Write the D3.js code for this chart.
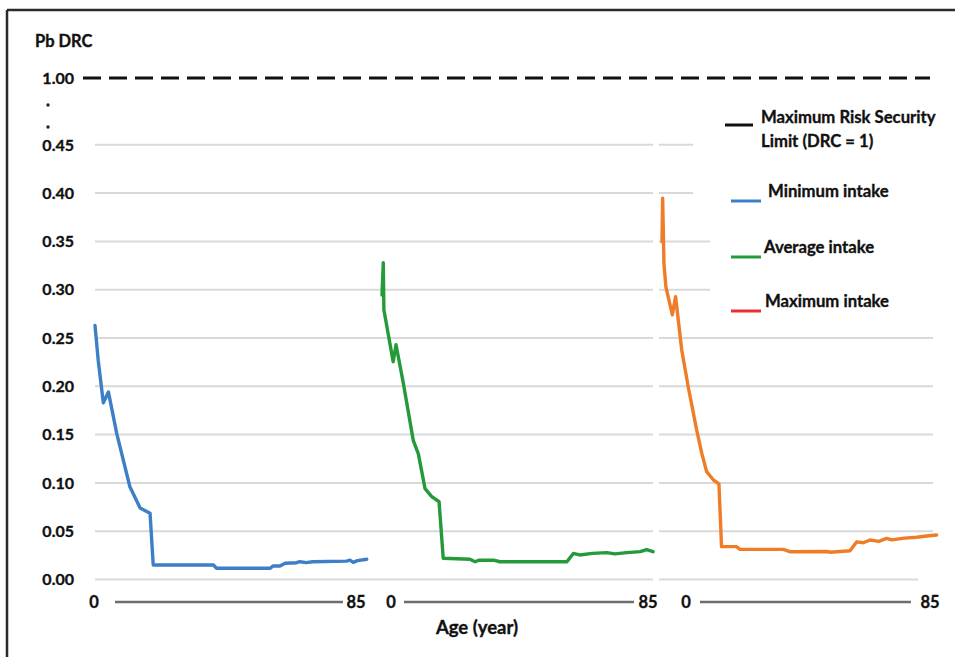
<!DOCTYPE html>
<html>
<head>
<meta charset="utf-8">
<script src="https://cdn.jsdelivr.net/npm/d3@7"></script>
<style>
  html, body { margin: 0; padding: 0; background: #ffffff; }
  svg { display: block; }
  text { font-family: Lato, "Open Sans", "DejaVu Sans", sans-serif; font-weight: 700; fill: #111; stroke: #111; stroke-width: 0.35px; }
</style>
</head>
<body>
<svg id="chart" width="955" height="657"></svg>
<script>
// Pb dietary risk coefficient (DRC) by age, three intake scenarios
const yTicks = [0.00, 0.05, 0.10, 0.15, 0.20, 0.25, 0.30, 0.35, 0.40, 0.45];
const yTickLabels = ["0.00", "0.05", "0.10", "0.15", "0.20", "0.25", "0.30", "0.35", "0.40", "0.45"];
const limitValue = 1.00;
const ageDomain = [0, 85];

const minAges = [0, 1.0, 2.6, 4.2, 6.8, 10.9, 14.1, 17.2, 18.2, 37, 38, 54.7, 55.7, 57.8, 59.4, 63, 64, 66, 68, 78.6, 79.7, 80.7, 82, 84.9];
const minValues = [0.263, 0.227, 0.183, 0.194, 0.151, 0.096, 0.074, 0.0685, 0.015, 0.015, 0.0116, 0.0116, 0.014, 0.014, 0.0168, 0.0174, 0.0184, 0.0174, 0.0184, 0.019, 0.020, 0.0178, 0.0195, 0.021];

const avgAges = [0, 0.4, 0.6, 3.5, 4.4, 6.7, 9.8, 11.4, 13.5, 15.6, 17.9, 19.2, 27.6, 29.2, 30.5, 35, 37, 58, 60, 62, 66, 70.5, 73, 76.8, 81, 83, 85];
const avgValues = [0.2945, 0.328, 0.279, 0.2255, 0.243, 0.203, 0.144, 0.130, 0.094, 0.0857, 0.0805, 0.022, 0.021, 0.0184, 0.020, 0.020, 0.0184, 0.0184, 0.027, 0.0254, 0.027, 0.0278, 0.0265, 0.0278, 0.0288, 0.031, 0.0288];

const maxAges = [0, 0.2, 0.6, 1.2, 3.2, 4.2, 6.1, 8.1, 10.7, 12.3, 13.8, 15.9, 17.6, 18.4, 23, 24.1, 37.5, 39.5, 50.9, 52, 58.1, 60.2, 62.2, 64.3, 67, 69.4, 71, 75, 78.7, 81.8, 84.9];
const maxValues = [0.3497, 0.3946, 0.327, 0.303, 0.274, 0.2928, 0.2376, 0.1996, 0.155, 0.1306, 0.1116, 0.103, 0.0989, 0.034, 0.034, 0.0312, 0.0312, 0.0288, 0.029, 0.0282, 0.0298, 0.039, 0.038, 0.0409, 0.0395, 0.0426, 0.041, 0.0428, 0.0437, 0.045, 0.046];

const legendLabels = [["Maximum Risk Security", "Limit (DRC = 1)"], ["Minimum intake"], ["Average intake"], ["Maximum intake"]];
const axisTitleY = "Pb DRC";
const axisTitleX = "Age (year)";
const ageTickLabels = ["0", "85"];

const svg = d3.select("#chart");

// Vertical scale (broken axis: 0–0.45 region, limit line drawn above the break)
const y = d3.scaleLinear().domain([0, 0.45]).range([579.5, 144.8]);
const yLimit = 78;

// Three side-by-side panels sharing the y axis
const panels = [
  { ages: minAges, values: minValues, color: "#3c7fc6", range: [95, 367],  axis: { l0: 94,  a: 115, b: 343, l85: 356 } },
  { ages: avgAges, values: avgValues, color: "#249a3a", range: [382, 653], axis: { l0: 391, a: 404, b: 634, l85: 648 } },
  { ages: maxAges, values: maxValues, color: "#ef7d27", range: [662, 937], axis: { l0: 686, a: 700, b: 911, l85: 930 } }
];

// Frame (top and left edges)
svg.append("line").attr("x1", 7).attr("x2", 955).attr("y1", 10).attr("y2", 10)
  .attr("stroke", "#2b2b2b").attr("stroke-width", 2.5);
svg.append("line").attr("x1", 7).attr("x2", 7).attr("y1", 10).attr("y2", 657)
  .attr("stroke", "#2b2b2b").attr("stroke-width", 2.5);

// Gridlines
const gridEnd = v => v >= 0.40 ? 693 : v >= 0.30 ? 710 : v > 0 ? 933 : 918;
const grid = svg.append("g");
yTicks.forEach(v => {
  grid.append("line").attr("x1", 95).attr("x2", 653)
    .attr("y1", y(v)).attr("y2", y(v))
    .attr("stroke", "#d9d9d9").attr("stroke-width", 2);
  grid.append("line").attr("x1", 659).attr("x2", gridEnd(v))
    .attr("y1", y(v)).attr("y2", y(v))
    .attr("stroke", "#d9d9d9").attr("stroke-width", 2);
});

// Y tick labels
svg.append("g").selectAll("text").data(yTicks).join("text")
  .attr("x", 74).attr("y", d => y(d)).attr("dy", "0.36em")
  .attr("text-anchor", "end").attr("font-size", 16)
  .text((d, i) => yTickLabels[i]);

svg.append("text").attr("x", 74).attr("y", yLimit).attr("dy", "0.36em")
  .attr("text-anchor", "end").attr("font-size", 16).text(limitValue.toFixed(2));

// Axis break dots
[105, 127].forEach(cy => svg.append("circle").attr("cx", 48).attr("cy", cy).attr("r", 1.7).attr("fill", "#222"));

// Y axis title
svg.append("text").attr("x", 35).attr("y", 47).attr("font-size", 16.5).text(axisTitleY);

// Limit line (DRC = 1)
svg.append("line").attr("x1", 83).attr("x2", 930).attr("y1", yLimit).attr("y2", yLimit)
  .attr("stroke", "#111").attr("stroke-width", 3).attr("stroke-dasharray", "18,8");

// Series curves and per-panel age axes
panels.forEach(p => {
  const x = d3.scaleLinear().domain(ageDomain).range(p.range);
  const pts = p.ages.map((a, i) => [a, p.values[i]]);
  const line = d3.line().x(d => x(d[0])).y(d => y(d[1]));
  svg.append("path").datum(pts).attr("d", line)
    .attr("fill", "none").attr("stroke", p.color).attr("stroke-width", 3.4)
    .attr("stroke-linejoin", "round").attr("stroke-linecap", "round");

  const ax = svg.append("g");
  ax.append("line").attr("x1", p.axis.a).attr("x2", p.axis.b).attr("y1", 602).attr("y2", 602)
    .attr("stroke", "#6e6e6e").attr("stroke-width", 2.5);
  ax.append("text").attr("x", p.axis.l0).attr("y", 602).attr("dy", "0.36em")
    .attr("text-anchor", "middle").attr("font-size", 16.5).text(ageTickLabels[0]);
  ax.append("text").attr("x", p.axis.l85).attr("y", 602).attr("dy", "0.36em")
    .attr("text-anchor", "middle").attr("font-size", 16.5).text(ageTickLabels[1]);
});

// X axis title
svg.append("text").attr("x", 477).attr("y", 634).attr("text-anchor", "middle")
  .attr("font-size", 18.5).text(axisTitleX);

// Legend
const legendItems = [
  { color: "#111111", x1: 725, x2: 753, ly: 125, tx: 761, ty: 123 },
  { color: "#3c7fc6", x1: 731, x2: 761, ly: 201, tx: 768, ty: 197 },
  { color: "#249a3a", x1: 731, x2: 761, ly: 257, tx: 764, ty: 253 },
  { color: "#e8302e", x1: 731, x2: 761, ly: 311, tx: 765, ty: 307 }
];
const legend = svg.append("g");
legendItems.forEach((it, i) => {
  legend.append("line").attr("x1", it.x1).attr("x2", it.x2).attr("y1", it.ly).attr("y2", it.ly)
    .attr("stroke", it.color).attr("stroke-width", 3);
  legendLabels[i].forEach((t, j) => {
    legend.append("text").attr("x", it.tx).attr("y", it.ty + j * 24)
      .attr("font-size", 16.7).text(t);
  });
});
</script>
</body>
</html>
